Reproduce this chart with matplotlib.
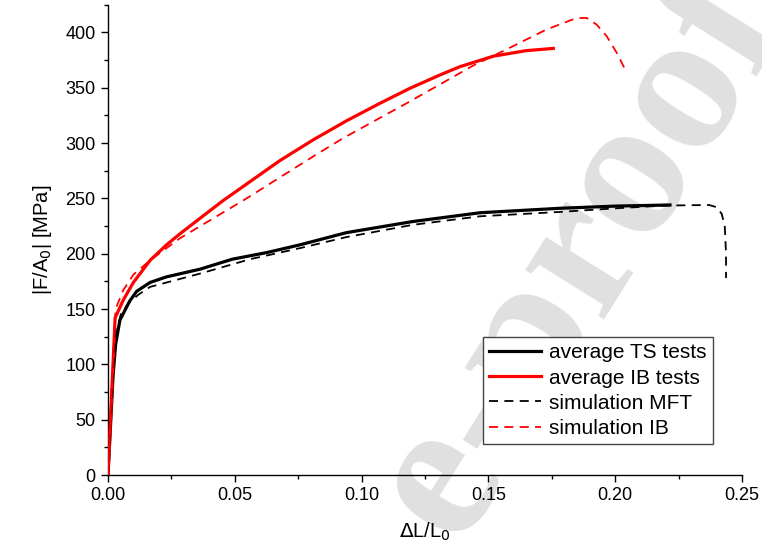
import matplotlib
matplotlib.use('Agg')
import matplotlib.pyplot as plt
from matplotlib.ticker import MultipleLocator

plt.rcParams['font.family'] = ['Liberation Sans', 'DejaVu Sans']

# average TS tests (solid black)
ts_x = [0, 0.001, 0.002, 0.003, 0.0047, 0.0085, 0.0113, 0.0166, 0.023, 0.0363, 0.049,
        0.0626, 0.0757, 0.094, 0.12, 0.1467, 0.178, 0.2, 0.2216]
ts_y = [0, 45, 90, 118, 140, 157, 166, 174, 179, 186, 195, 201, 208, 219, 229, 237, 241, 243, 244]

# average IB tests (solid red)
ib_x = [0, 0.0028, 0.006, 0.010, 0.0166, 0.0231, 0.0284, 0.0363, 0.0454, 0.0547, 0.0677,
        0.081, 0.094, 0.1073, 0.1191, 0.1309, 0.1388, 0.152, 0.165, 0.1756]
ib_y = [0, 142, 158, 174, 194, 208, 218, 232, 248, 263, 284, 303, 320, 336, 349.5, 361.5,
        369, 378.5, 383.5, 385.5]

# simulation MFT (dashed black)
mft_x = [0, 0.001, 0.002, 0.003, 0.005, 0.008, 0.012, 0.0166, 0.0363, 0.056, 0.0757, 0.094,
         0.12, 0.1467, 0.178, 0.2, 0.22, 0.237, 0.240, 0.242, 0.2432, 0.2437, 0.2437]
mft_y = [0, 50, 95, 125, 145, 155, 163, 170, 182, 195, 205, 215, 226, 233.8, 237.7, 241,
         243.5, 244, 242, 236, 225, 200, 178]

# simulation IB (dashed red)
sib_x = [0, 0.0015, 0.003, 0.006, 0.010, 0.0166, 0.0284, 0.0547, 0.0678, 0.081, 0.0928,
         0.1073, 0.1178, 0.1309, 0.144, 0.1598, 0.173, 0.1848, 0.1888, 0.1927, 0.1966,
         0.2006, 0.2039]
sib_y = [0, 80, 150, 167, 181, 194, 214, 250, 269, 288, 304.5, 322.8, 336, 353, 370, 387.6,
         402.7, 413, 413, 407, 396.7, 381.6, 366.5]

fig = plt.figure(figsize=(7.62, 5.49), dpi=100)
ax = fig.add_axes([108 / 762, 1 - 475 / 549, 634 / 762, 470.3 / 549])
ax.set_facecolor('none')

# watermark
ax.text(580 / 762, 1 - 255 / 549, 'e-proof', transform=fig.transFigure, rotation=58,
        ha='center', va='center', fontsize=145, fontweight='bold', color='#e0e0e0',
        family='Liberation Serif', zorder=0, clip_on=False)

ax.plot(ts_x, ts_y, color='black', lw=2.3, label='average TS tests', zorder=3)
ax.plot(ib_x, ib_y, color='red', lw=2.3, label='average IB tests', zorder=3)
ax.plot(mft_x, mft_y, color='black', lw=1.3, ls=(0, (5, 3.5)), label='simulation MFT', zorder=3)
ax.plot(sib_x, sib_y, color='red', lw=1.3, ls=(0, (5, 3.5)), label='simulation IB', zorder=3)

ax.set_xlim(0, 0.25)
ax.set_ylim(0, 425)
ax.xaxis.set_major_locator(MultipleLocator(0.05))
ax.xaxis.set_minor_locator(MultipleLocator(0.025))
ax.yaxis.set_major_locator(MultipleLocator(50))
ax.yaxis.set_minor_locator(MultipleLocator(25))
ax.xaxis.set_major_formatter(plt.FuncFormatter(lambda v, p: f'{v:.2f}'))

for s in ['top', 'right']:
    ax.spines[s].set_visible(False)
for s in ['left', 'bottom']:
    ax.spines[s].set_linewidth(1.0)
ax.tick_params(which='major', direction='out', length=5, width=1, labelsize=13, pad=4)
ax.tick_params(which='minor', direction='out', length=3, width=1)

ax.set_xlabel(r'$\Delta$L/L$_0$', fontsize=14.5, labelpad=12)
ax.set_ylabel(r'|F/A$_0$| [MPa]', fontsize=14.5, labelpad=8)

leg = ax.legend(loc='lower left', bbox_to_anchor=(0.591, 0.0653), borderaxespad=0,
                fontsize=15, frameon=True, fancybox=False, edgecolor='#444444',
                framealpha=1, labelspacing=0.3, borderpad=0.3, handletextpad=0.4,
                handlelength=2.5)
leg.get_frame().set_linewidth(1.0)
leg.set_zorder(5)

fig.savefig('out.png', dpi=100)
